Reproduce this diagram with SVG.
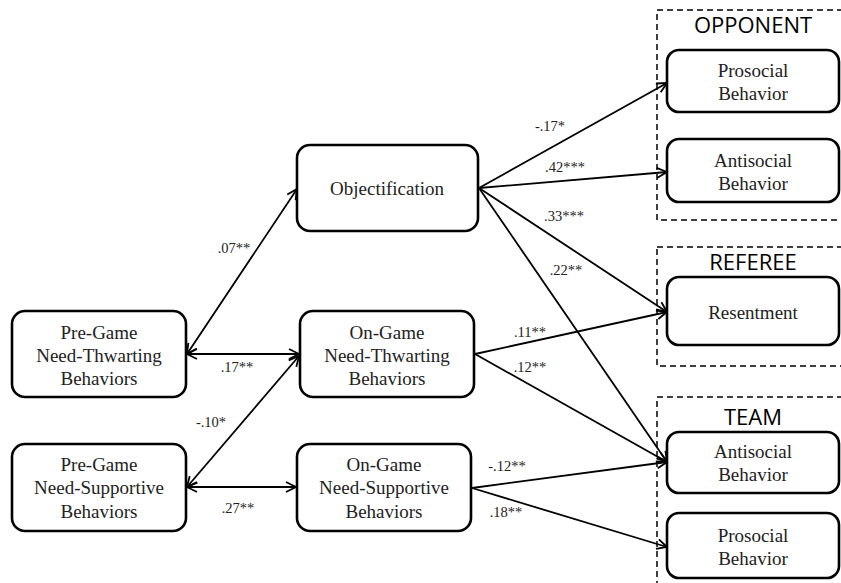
<svg xmlns="http://www.w3.org/2000/svg" width="841" height="583" viewBox="0 0 841 583">
<style>
.node rect{fill:#fff;stroke:#000;stroke-width:2.6}
.node text{font-size:19px;fill:#222;text-anchor:middle}
.grp{fill:none;stroke:#000;stroke-width:1.5;stroke-dasharray:6,4}
.title{font-size:22px;fill:#000;text-anchor:middle}
.conn line{stroke:#000;stroke-width:1.8;fill:none}
.lbl{font-size:14.5px;fill:#222;text-anchor:middle}
</style>
<defs>
<marker id="ah" viewBox="0 0 12 12" refX="11" refY="6" markerWidth="12" markerHeight="12" markerUnits="userSpaceOnUse" orient="auto-start-reverse">
<path d="M1,1 L11,6 L1,11" fill="none" stroke="#000" stroke-width="1.8"/>
</marker>
</defs>
<rect width="841" height="583" fill="#fff"/>
<g id="groups" font-family="Open Sans, Liberation Sans, sans-serif">
<rect class="grp" x="657" y="10" width="200" height="210"/>
<text class="title" x="753" y="33">OPPONENT</text>
<rect class="grp" x="657" y="247" width="200" height="119"/>
<text class="title" x="753" y="270">REFEREE</text>
<rect class="grp" x="657" y="397" width="200" height="200"/>
<text class="title" x="753" y="425">TEAM</text>
</g>
<g id="connectors" class="conn">
<line x1="187" y1="354" x2="297" y2="189" marker-start="url(#ah)" marker-end="url(#ah)"/>
<line x1="187" y1="354" x2="299" y2="354" marker-start="url(#ah)" marker-end="url(#ah)"/>
<line x1="187" y1="487" x2="299" y2="356" marker-start="url(#ah)" marker-end="url(#ah)"/>
<line x1="187" y1="487" x2="296" y2="487" marker-start="url(#ah)" marker-end="url(#ah)"/>
<line x1="479" y1="188" x2="667" y2="83" marker-end="url(#ah)"/>
<line x1="479" y1="188" x2="667" y2="172" marker-end="url(#ah)"/>
<line x1="479" y1="188" x2="667" y2="312" marker-end="url(#ah)"/>
<line x1="479" y1="188" x2="667" y2="462" marker-end="url(#ah)"/>
<line x1="475" y1="354" x2="667" y2="312" marker-end="url(#ah)"/>
<line x1="475" y1="354" x2="667" y2="462" marker-end="url(#ah)"/>
<line x1="472" y1="488" x2="667" y2="462" marker-end="url(#ah)"/>
<line x1="472" y1="488" x2="667" y2="547" marker-end="url(#ah)"/>
</g>
<g id="labels" font-family="Liberation Serif, Times New Roman, Noto Serif, DejaVu Serif, serif">
<text class="lbl" x="234" y="253">.07**</text>
<text class="lbl" x="237" y="372">.17**</text>
<text class="lbl" x="211" y="427">-.10*</text>
<text class="lbl" x="238" y="513">.27**</text>
<text class="lbl" x="550" y="131">-.17*</text>
<text class="lbl" x="565" y="172">.42***</text>
<text class="lbl" x="564" y="221">.33***</text>
<text class="lbl" x="566" y="275">.22**</text>
<text class="lbl" x="530" y="337">.11**</text>
<text class="lbl" x="530" y="372">.12**</text>
<text class="lbl" x="507" y="471">-.12**</text>
<text class="lbl" x="506" y="517">.18**</text>
</g>
<g id="nodes" font-family="Liberation Serif, Times New Roman, Noto Serif, DejaVu Serif, serif">
<g id="pre-thwarting" class="node">
<rect x="12" y="311" width="174" height="86" rx="13"/>
<text x="99" y="339">Pre-Game</text>
<text x="99" y="362">Need-Thwarting</text>
<text x="99" y="385">Behaviors</text>
</g>
<g id="pre-supportive" class="node">
<rect x="12" y="444" width="174" height="87" rx="13"/>
<text x="99" y="471">Pre-Game</text>
<text x="99" y="494">Need-Supportive</text>
<text x="99" y="518">Behaviors</text>
</g>
<g id="objectification" class="node">
<rect x="297" y="145" width="181" height="86" rx="13"/>
<text x="387" y="195">Objectification</text>
</g>
<g id="on-thwarting" class="node">
<rect x="300" y="311" width="174" height="86" rx="13"/>
<text x="387" y="339">On-Game</text>
<text x="387" y="362">Need-Thwarting</text>
<text x="387" y="385">Behaviors</text>
</g>
<g id="on-supportive" class="node">
<rect x="297" y="444" width="174" height="87" rx="13"/>
<text x="384" y="471">On-Game</text>
<text x="384" y="494">Need-Supportive</text>
<text x="384" y="518">Behaviors</text>
</g>
<g id="opp-prosocial" class="node">
<rect x="667" y="50" width="172" height="62" rx="12"/>
<text x="753" y="77">Prosocial</text>
<text x="753" y="100">Behavior</text>
</g>
<g id="opp-antisocial" class="node">
<rect x="667" y="139" width="172" height="63" rx="12"/>
<text x="753" y="167">Antisocial</text>
<text x="753" y="190">Behavior</text>
</g>
<g id="resentment" class="node">
<rect x="667" y="277" width="172" height="68" rx="12"/>
<text x="753" y="319">Resentment</text>
</g>
<g id="team-antisocial" class="node">
<rect x="667" y="432" width="172" height="61" rx="12"/>
<text x="753" y="458">Antisocial</text>
<text x="753" y="481">Behavior</text>
</g>
<g id="team-prosocial" class="node">
<rect x="667" y="513" width="172" height="65" rx="12"/>
<text x="753" y="542">Prosocial</text>
<text x="753" y="565">Behavior</text>
</g>
</g>
</svg>
